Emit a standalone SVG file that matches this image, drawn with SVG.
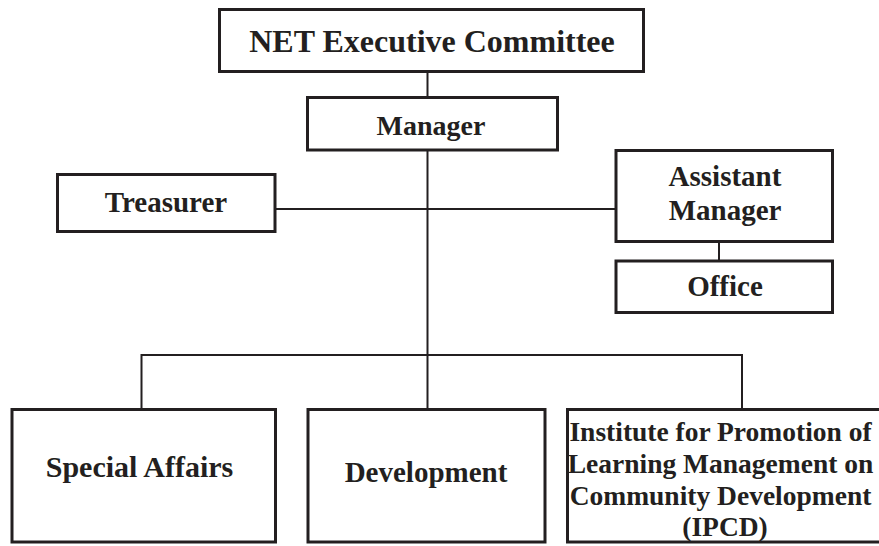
<svg xmlns="http://www.w3.org/2000/svg" width="879" height="546" viewBox="0 0 879 546">
<style>
.box{fill:#ffffff;stroke:#231f20;stroke-width:3}
.ln{fill:none;stroke:#231f20;stroke-width:2}
text{font-family:"Liberation Serif","Times New Roman",serif;font-weight:bold;fill:#231f20;text-anchor:middle}
</style>
<rect width="879" height="546" fill="#ffffff"/>
<g id="connectors">
<line class="ln" x1="427.5" y1="72" x2="427.5" y2="97"/>
<line class="ln" x1="427.5" y1="150" x2="427.5" y2="355"/>
<line class="ln" x1="275" y1="209" x2="616" y2="209"/>
<line class="ln" x1="719" y1="242" x2="719" y2="261"/>
<polyline class="ln" points="141.5,409 141.5,355 742,355 742,409"/>
<line class="ln" x1="427.5" y1="355" x2="427.5" y2="409"/>
</g>
<g id="net">
<rect class="box" x="219.5" y="9.5" width="424" height="62"/>
<text x="432" y="52" font-size="32">NET Executive Committee</text>
</g>
<g id="manager">
<rect class="box" x="307.5" y="97.5" width="250" height="52.5"/>
<text x="431" y="135" font-size="28">Manager</text>
</g>
<g id="treasurer">
<rect class="box" x="57.5" y="174.5" width="217.5" height="57"/>
<text x="166" y="211.5" font-size="29">Treasurer</text>
</g>
<g id="assistant">
<rect class="box" x="616" y="150.5" width="216.5" height="91"/>
<text x="725" y="185.5" font-size="29">Assistant</text>
<text x="725" y="220" font-size="29">Manager</text>
</g>
<g id="office">
<rect class="box" x="616" y="261" width="216.5" height="51.5"/>
<text x="725" y="295.5" font-size="29">Office</text>
</g>
<g id="special">
<rect class="box" x="12" y="409.5" width="263.5" height="132.5"/>
<text x="139.5" y="477" font-size="30">Special Affairs</text>
</g>
<g id="development">
<rect class="box" x="308" y="409.5" width="237" height="132.5"/>
<text x="426" y="481.5" font-size="29">Development</text>
</g>
<g id="ipcd">
<rect class="box" x="567.5" y="409.5" width="315" height="132.5"/>
<text x="720.5" y="440.5" font-size="27.5">Institute for Promotion of</text>
<text x="720.5" y="472.5" font-size="27.5">Learning Management on</text>
<text x="720.5" y="504.5" font-size="27.5">Community Development</text>
<text x="725" y="536" font-size="27.5">(IPCD)</text>
</g>
</svg>
